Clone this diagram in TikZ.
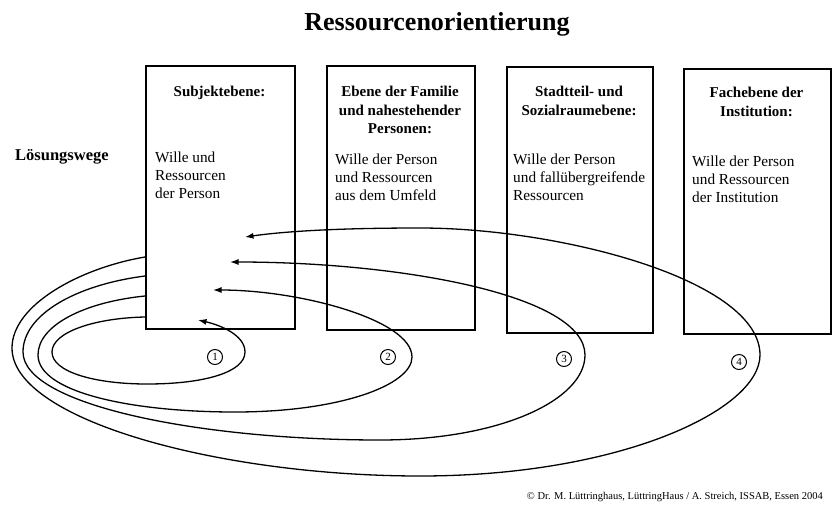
\documentclass[tikz,border=0pt]{standalone}
\usepackage{fontspec}
\setmainfont{Liberation Serif}
\usetikzlibrary{arrows.meta}
\begin{document}
\begin{tikzpicture}[x=1pt,y=-1pt,
  box/.style={draw, line width=1.6pt, anchor=north west, inner sep=0pt},
  head/.style={font=\fontsize{15}{18.5}\selectfont\bfseries, align=center, anchor=north, inner sep=0pt},
  body/.style={font=\fontsize{15.3}{17.8}\selectfont, align=left, anchor=north west, inner sep=0pt},
  loop/.style={line width=1.3pt, -{Latex[length=8.5pt,width=6pt]}},
  num/.style={draw, circle, line width=1pt, minimum size=15pt, inner sep=0pt, font=\fontsize{11}{11}\selectfont}]
\path[fill=white] (0,0) rectangle (836,504);
\useasboundingbox (0,0) rectangle (836,504);

\node[font=\fontsize{26}{29}\selectfont\bfseries] (title) at (437,24) {Ressourcenorientierung};
\node[font=\fontsize{16.5}{18}\selectfont\bfseries, anchor=west, inner sep=0pt] (lw) at (15,157) {Lösungswege};

\node[box, minimum width=149pt, minimum height=263pt] (b1) at (145,65) {};
\node[box, minimum width=148pt, minimum height=264pt] (b2) at (326,65) {};
\node[box, minimum width=146pt, minimum height=266pt] (b3) at (506,66) {};
\node[box, minimum width=147pt, minimum height=265pt] (b4) at (683,68) {};

\node[head] (h1) at (219.5,86) {Subjektebene:};
\node[head] (h2) at (400,86) {Ebene der Familie\\und nahestehender\\Personen:};
\node[head] (h3) at (579,86) {Stadtteil- und\\Sozialraumebene:};
\node[head] (h4) at (756.5,87) {Fachebene der\\Institution:};

\node[body] (t1) at (155,152) {Wille und\\Ressourcen\\der Person};
\node[body] (t2) at (335,154) {Wille der Person\\und Ressourcen\\aus dem Umfeld};
\node[body] (t3) at (513,154) {Wille der Person\\und fallübergreifende\\Ressourcen};
\node[body] (t4) at (692,156) {Wille der Person\\und Ressourcen\\der Institution};

\coordinate (s1) at (145,317);
\coordinate (s2) at (145,296);
\coordinate (s3) at (145,276);
\coordinate (s4) at (145,257);
\coordinate (e1) at (198,320);
\coordinate (e2) at (213,290);
\coordinate (e3) at (230,262);
\coordinate (e4) at (245,237);

\draw[loop] (s1) .. controls (95,318) and (52,332) .. (52,352)
  .. controls (52,372) and (95,384) .. (147,384)
  .. controls (205,384) and (245,372) .. (245,352)
  .. controls (245,335) and (220,325) .. (e1);
\draw[loop] (s2) .. controls (85,302) and (38,325) .. (38,355)
  .. controls (38,392) and (130,412) .. (235,412)
  .. controls (340,412) and (412,385) .. (412,357)
  .. controls (412,320) and (300,290) .. (e2);
\draw[loop] (s3) .. controls (75,285) and (23,315) .. (23,352)
  .. controls (23,405) and (200,440) .. (380,440)
  .. controls (500,440) and (585,400) .. (585,355)
  .. controls (585,295) and (400,262) .. (e3);
\draw[loop] (s4) .. controls (80,268) and (12,305) .. (12,348)
  .. controls (12,420) and (220,476) .. (420,476)
  .. controls (620,476) and (760,410) .. (760,355)
  .. controls (760,280) and (560,228) .. (420,228)
  .. controls (330,228) and (280,232) .. (e4);

\node[num] (n1) at (215,357) {1};
\node[num] (n2) at (388,357) {2};
\node[num] (n3) at (564,359) {3};
\node[num] (n4) at (739,362) {4};

\node[font=\fontsize{10.5}{11}\selectfont, anchor=east, inner sep=0pt] (copy) at (823,497) {© Dr. M. Lüttringhaus, LüttringHaus / A. Streich, ISSAB, Essen 2004};
\end{tikzpicture}
\end{document}
